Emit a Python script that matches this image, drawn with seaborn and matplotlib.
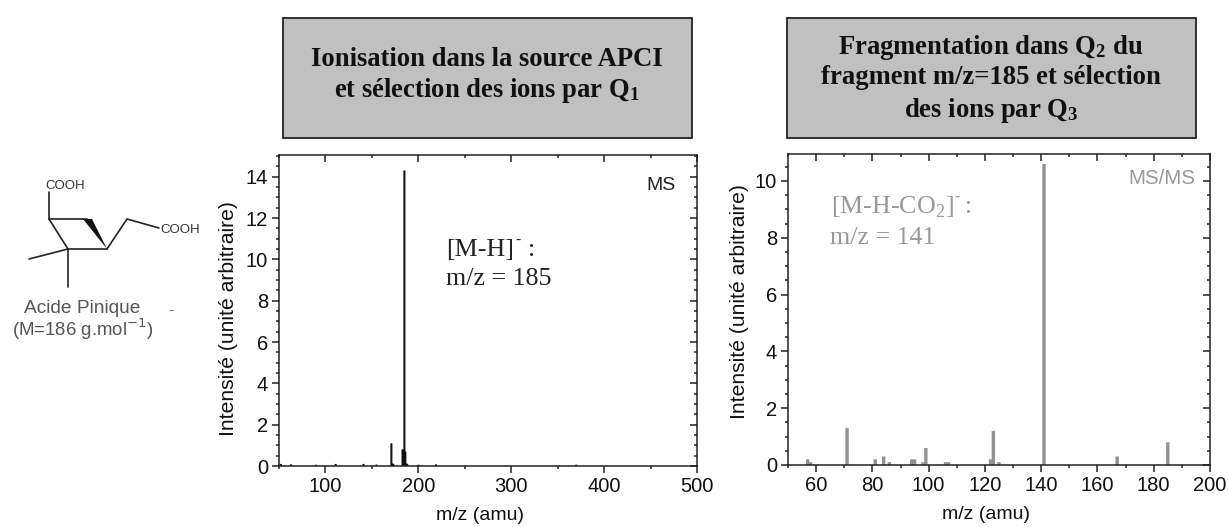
#!/usr/bin/env python
import matplotlib
matplotlib.use('Agg')
import matplotlib.pyplot as plt
import pandas as pd
import seaborn as sns
from matplotlib.patches import Polygon, Rectangle
from matplotlib.ticker import MultipleLocator

W, H = 1228, 527

MS_MZ = [52, 63, 90, 111, 141, 155, 171, 172, 173, 183, 184, 185, 186, 187, 188, 200, 219, 370]
MS_INT = [0.1, 0.08, 0.06, 0.1, 0.1, 0.07, 1.1, 0.12, 0.1, 0.8, 0.8, 14.3, 0.7, 0.12, 0.1, 0.06, 0.08, 0.06]

MSMS_MZ = [57, 58, 71, 81, 84, 86, 94, 95, 98, 99, 106, 107, 122, 123, 125, 141, 167, 185]
MSMS_INT = [0.2, 0.1, 1.3, 0.2, 0.3, 0.1, 0.2, 0.2, 0.1, 0.6, 0.1, 0.1, 0.2, 1.2, 0.1, 10.6, 0.3, 0.8]

X_LABEL = "m/z (amu)"
Y_LABEL = "Intensité (unité arbitraire)"
BAR_GREY = '#919191'
TXT_GREY = '#999999'
BOX_GREY = '#c0c0c0'
SERIF = 'Liberation Serif'
SANS = 'Liberation Sans'

sns.set_theme(style='ticks')
plt.rcParams['font.family'] = SANS
plt.rcParams['mathtext.fontset'] = 'custom'
plt.rcParams['mathtext.rm'] = SERIF
plt.rcParams['mathtext.bf'] = 'Liberation Serif:bold'

fig = plt.figure(figsize=(W / 100, H / 100), dpi=100)


def px_axes(left, top, right, bottom):
    return fig.add_axes([left / W, 1 - bottom / H, (right - left) / W, (bottom - top) / H])


def fx(x):
    return x / W


def fy(y):
    return 1 - y / H


def spectrum(ax, mz, intensity, color, bar_width, xlim, ylim, x_major, x_minor, xlabel_pos, ylabel_pos):
    df = pd.DataFrame({'mz': mz, 'intensity': intensity})
    sns.barplot(data=df, x='mz', y='intensity', native_scale=True, width=bar_width,
                color=color, saturation=1, linewidth=0, ax=ax)
    # no pixel snapping, otherwise equal bars come out 2 or 4 px wide
    for bar in ax.patches:
        bar.set_snap(False)
    ax.set_xlim(*xlim)
    ax.set_ylim(*ylim)
    ax.xaxis.set_major_locator(MultipleLocator(x_major))
    ax.xaxis.set_minor_locator(MultipleLocator(x_minor))
    ax.yaxis.set_major_locator(MultipleLocator(2))
    ax.yaxis.set_minor_locator(MultipleLocator(0.5))
    for side in ax.spines:
        ax.spines[side].set_linewidth(1.1)
        ax.spines[side].set_color('#222222')
    ax.tick_params(axis='both', which='major', direction='out', length=5, width=1.1,
                   labelsize=14.5, pad=3, color='#222222', labelcolor='#111111')
    ax.tick_params(axis='both', which='minor', direction='out', length=2.5, width=1.1, color='#222222')
    # inward ticks on the opposite sides
    for side in ['top', 'right']:
        twin = ax.secondary_xaxis('top') if side == 'top' else ax.secondary_yaxis('right')
        axis = twin.xaxis if side == 'top' else twin.yaxis
        axis.set_major_locator(MultipleLocator(x_major if side == 'top' else 2))
        axis.set_minor_locator(MultipleLocator(x_minor if side == 'top' else 0.5))
        twin.tick_params(which='major', direction='in', length=5, width=1.1, labelleft=False,
                         labelright=False, labeltop=False, labelbottom=False, color='#222222')
        twin.tick_params(which='minor', direction='in', length=2.5, width=1.1, color='#222222')
        twin.spines[side].set_visible(False)
    ax.set_xlabel(X_LABEL, fontsize=14, color='#111111', va='center')
    ax.set_ylabel(Y_LABEL, fontsize=15.2, color='#111111', va='center')
    ax.xaxis.set_label_coords(*xlabel_pos)
    ax.yaxis.set_label_coords(*ylabel_pos)


ax1 = px_axes(279, 155, 697, 466)
spectrum(ax1, MS_MZ, MS_INT, '#111111', 2.2, (50, 500), (0, 15.05), 100, 50, (0.48, -0.16), (-0.122, 0.473))
ax2 = px_axes(788, 154, 1210, 465)
spectrum(ax2, MSMS_MZ, MSMS_INT, BAR_GREY, 1.2, (50, 200), (0, 10.95), 20, 10, (0.469, -0.16), (-0.116, 0.527))

# annotations in the plots
note_kw = dict(fontsize=18.7, family=SERIF, va='baseline')
fig.text(fx(676), fy(190), "MS", fontsize=14, color='#222222', ha='right', va='baseline')
fig.text(fx(446), fy(256), "[M-H]", color='#222222', **note_kw)
fig.text(fx(518), fy(244), "-", color='#222222', fontsize=11, family=SERIF, ha='center', va='baseline')
fig.text(fx(528), fy(256), ":", color='#222222', **note_kw)
fig.text(fx(446), fy(285), "m/z = 185", color='#222222', **note_kw)
fig.text(fx(1195), fy(184), "MS/MS", fontsize=14.8, color=TXT_GREY, ha='right', va='baseline')
fig.text(fx(831), fy(213), r"[M-H-CO$_{2}$]", color=TXT_GREY, **note_kw)
fig.text(fx(957), fy(201), "-", color=TXT_GREY, fontsize=11, family=SERIF, ha='center', va='baseline')
fig.text(fx(965), fy(213), ":", color=TXT_GREY, **note_kw)
fig.text(fx(830), fy(244), "m/z = 141", color=TXT_GREY, **note_kw)

# header boxes
for left, top, right, bottom in [(283, 18, 692, 138), (787, 18, 1196, 138)]:
    fig.add_artist(Rectangle((fx(left), fy(bottom)), (right - left) / W, (bottom - top) / H,
                             transform=fig.transFigure, facecolor=BOX_GREY,
                             edgecolor='#222222', linewidth=1.3))
box_kw = dict(fontsize=19.2, family=SERIF, fontweight='bold', color='#111111', ha='center', va='baseline')
fig.text(fx(487), fy(66), "Ionisation dans la source APCI", **box_kw)
fig.text(fx(487), fy(97), r"et sélection des ions par Q$\mathbf{_{1}}$", **box_kw)
fig.text(fx(991), fy(54), r"Fragmentation dans Q$\mathbf{_{2}}$ du", **box_kw)
fig.text(fx(991), fy(84), "fragment m/z=185 et sélection", **box_kw)
fig.text(fx(991), fy(117), r"des ions par Q$\mathbf{_{3}}$", **box_kw)

# molecule sketch on the left
MOL_LINES = [
    [(49, 192), (49, 219), (68, 249), (107, 249)],
    [(49, 219), (87, 219)],
    [(68, 249), (68, 287)],
    [(68, 249), (29, 259)],
    [(107, 249), (127, 219), (159, 228)],
]
for line in MOL_LINES:
    xs = [fx(p[0]) for p in line]
    ys = [fy(p[1]) for p in line]
    fig.add_artist(plt.Line2D(xs, ys, color='#222222', linewidth=1.2, transform=fig.transFigure))
fig.add_artist(Polygon([(fx(83), fy(219)), (fx(92), fy(219)), (fx(107), fy(249))],
                       transform=fig.transFigure, facecolor='#111111', edgecolor='none'))
fig.text(fx(45), fy(189), "COOH", fontsize=9.5, color='#333333', va='baseline')
fig.text(fx(160), fy(233), "COOH", fontsize=9.5, color='#333333', va='baseline')
fig.text(fx(82.5), fy(313), "Acide Pinique", fontsize=13.8, color='#555555', ha='center', va='baseline')
fig.text(fx(82.5), fy(336), r"(M=186 g.mol$^{\mathrm{-1}}$)", fontsize=13.4, color='#555555', ha='center',
         va='baseline', math_fontfamily='dejavusans')
fig.text(fx(171), fy(316), "-", fontsize=12, color='#888888', ha='center', va='baseline')

print("Plotting image at out.png")
fig.savefig('out.png', dpi=100)
